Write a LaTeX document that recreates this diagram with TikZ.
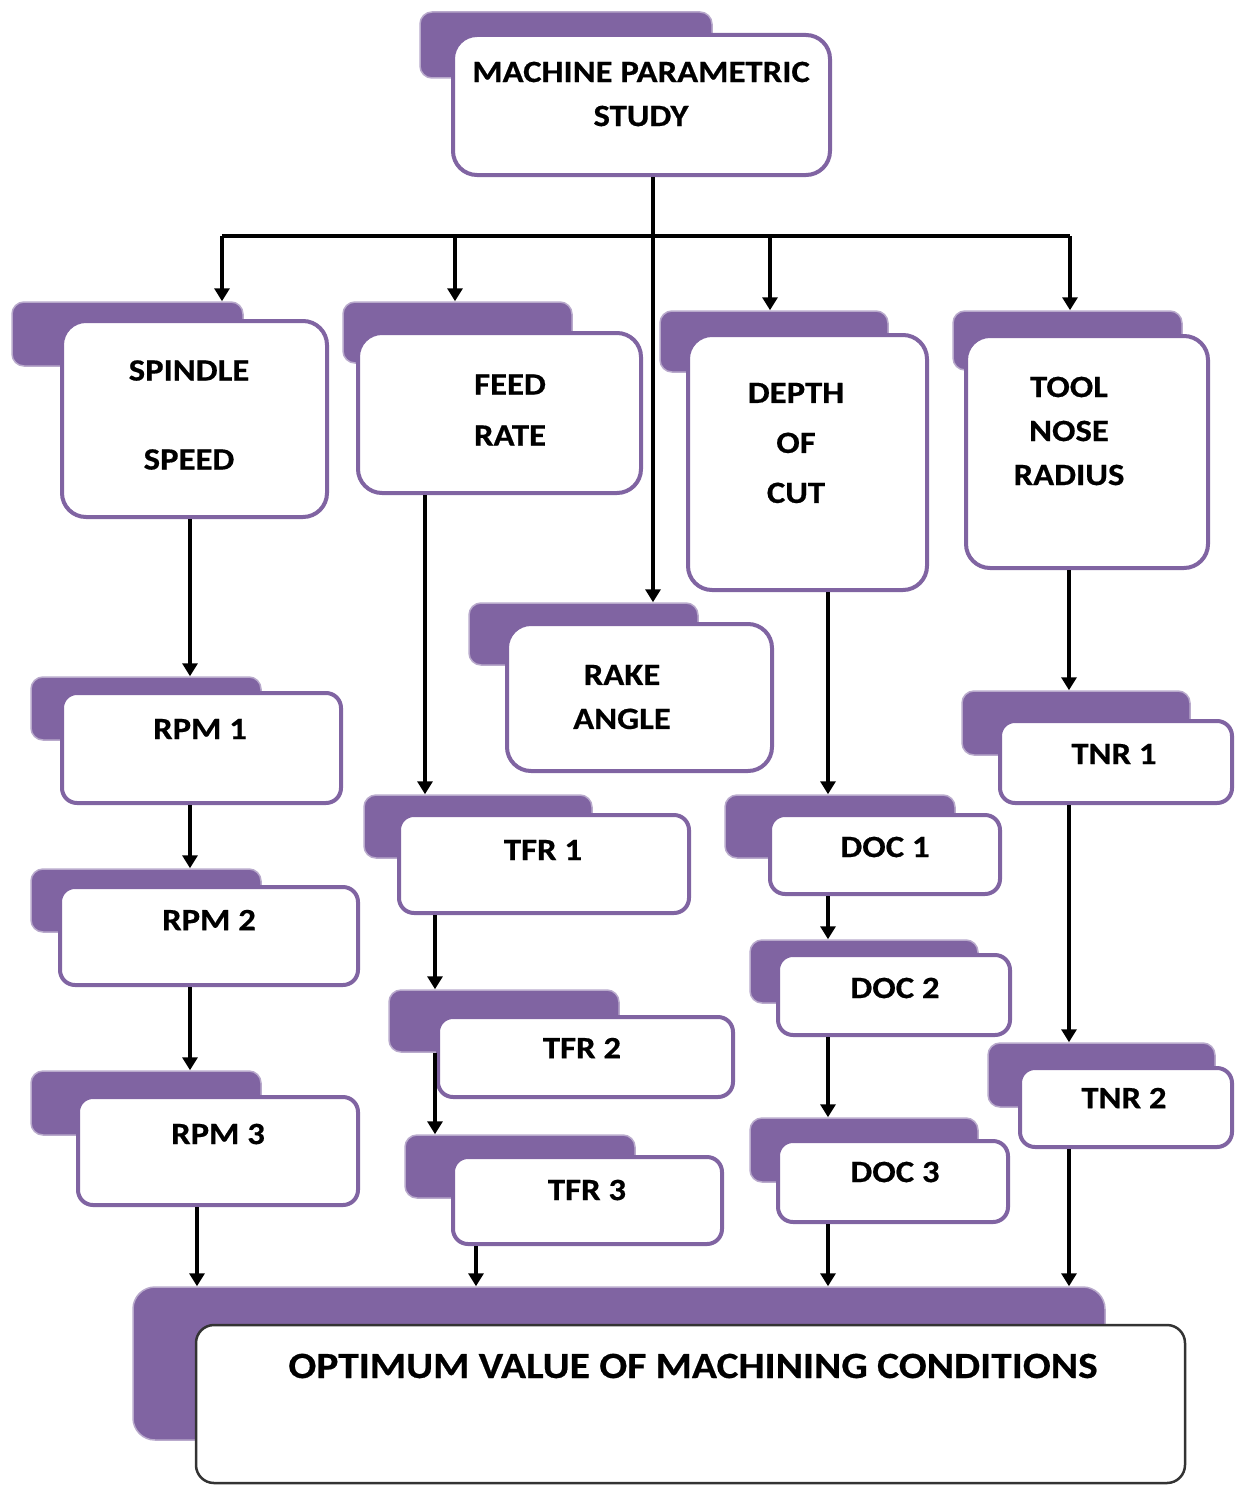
\documentclass[tikz,border=0pt]{standalone}
\usepackage{fontspec}
\setmainfont{Carlito}[FakeStretch=1.12, BoldFeatures={FakeBold=0.5}]
\usepackage{xcolor}
\usetikzlibrary{arrows.meta,positioning}

\definecolor{tabpurple}{HTML}{8064A2}

\begin{document}
\begin{tikzpicture}[
  x=1pt, y=-1pt,
  wh/.style 2 args={minimum width=#1pt, minimum height=#2pt},
  tab/.style={fill=tabpurple, draw=tabpurple!55!white, line width=1.5pt, rounded corners=12pt, inner sep=0pt},
  card/.style={fill=white, draw=tabpurple, line width=4pt, rounded corners=24pt, inner sep=0pt},
  smallcard/.style={card, rounded corners=15pt},
  lbl/.style={align=center, inner sep=0pt, font=\fontsize{31}{44}\selectfont\bfseries},
  conn/.style={line width=3.5pt},
  arr/.style={conn, -{Triangle[width=15pt,length=13pt]}},
]
\useasboundingbox (0,0) rectangle (1241,1485);

% top of the tree
\node[tab, wh={292}{66}] (topt) at (566,45) {};
\node[card, wh={377}{140}] (top) at (641.5,105) {};
\node[lbl] (top-l) at (641,94) {MACHINE PARAMETRIC\\STUDY};

% the five parameters
\node[tab, wh={231}{64}] (spindlet) at (127.5,334) {};
\node[card, wh={265}{196}] (spindle) at (194.5,419) {};
\node[lbl] (spindle-l) at (189,415) {SPINDLE\\[45pt]SPEED};

\node[tab, wh={229}{61}] (feedt) at (457.5,332.5) {};
\node[card, wh={283}{160}] (feed) at (499.5,413) {};
\node[lbl] (feed-l) at (510,410) {FEED\\[7pt]RATE};

\node[tab, wh={228}{61}] (deptht) at (774,341.5) {};
\node[card, wh={239}{255}] (depth) at (807.5,462.5) {};
\node[lbl] (depth-l) at (796,443) {DEPTH\\[6pt]OF\\[6pt]CUT};

\node[tab, wh={229}{59}] (toolt) at (1067.5,340.5) {};
\node[card, wh={242}{232}] (tool) at (1087,452) {};
\node[lbl] (tool-l) at (1069,431) {TOOL\\NOSE\\RADIUS};

\node[tab, wh={229}{62}] (raket) at (583.5,634) {};
\node[card, wh={265}{147}] (rake) at (639.5,697.5) {};
\node[lbl] (rake-l) at (622,697) {RAKE\\ANGLE};

% levels of each parameter
\node[tab, wh={230}{63}] (rpm1t) at (146,708.5) {};
\node[smallcard, wh={279}{110}] (rpm1) at (201.5,748) {};
\node[lbl] (rpm1-l) at (200,729) {RPM 1};

\node[tab, wh={230}{63}] (rpm2t) at (146,900.5) {};
\node[smallcard, wh={298}{98}] (rpm2) at (209,936) {};
\node[lbl] (rpm2-l) at (209,920) {RPM 2};

\node[tab, wh={230}{64}] (rpm3t) at (146,1103) {};
\node[smallcard, wh={280}{108}] (rpm3) at (218,1151) {};
\node[lbl] (rpm3-l) at (218,1134) {RPM 3};

\node[tab, wh={228}{63}] (tfr1t) at (478,826.5) {};
\node[smallcard, wh={290}{98}] (tfr1) at (544,864) {};
\node[lbl] (tfr1-l) at (543,850) {TFR 1};

\node[tab, wh={230}{62}] (tfr2t) at (504,1021) {};
\node[smallcard, wh={295}{80}] (tfr2) at (585.5,1057) {};
\node[lbl] (tfr2-l) at (582,1048) {TFR 2};

\node[tab, wh={230}{63}] (tfr3t) at (520,1166.5) {};
\node[smallcard, wh={269}{87}] (tfr3) at (587.5,1200.5) {};
\node[lbl] (tfr3-l) at (587,1190) {TFR 3};

\node[tab, wh={230}{63}] (doc1t) at (840,826.5) {};
\node[smallcard, wh={230}{79}] (doc1) at (885,854.5) {};
\node[lbl] (doc1-l) at (885,847) {DOC 1};

\node[tab, wh={228}{63}] (doc2t) at (864,971.5) {};
\node[smallcard, wh={232}{80}] (doc2) at (894,995) {};
\node[lbl] (doc2-l) at (895,988) {DOC 2};

\node[tab, wh={228}{64}] (doc3t) at (864,1150) {};
\node[smallcard, wh={230}{81}] (doc3) at (893,1181.5) {};
\node[lbl] (doc3-l) at (895,1172) {DOC 3};

\node[tab, wh={228}{64}] (tnr1t) at (1076,723) {};
\node[smallcard, wh={232}{82}] (tnr1) at (1116,762) {};
\node[lbl] (tnr1-l) at (1114,754) {TNR 1};

\node[tab, wh={227}{64}] (tnr2t) at (1101.5,1075) {};
\node[smallcard, wh={212}{79}] (tnr2) at (1126,1107.5) {};
\node[lbl] (tnr2-l) at (1124,1098) {TNR 2};

% result
\node[tab, wh={972}{153}, rounded corners=22pt] (optt) at (619,1363.5) {};
\node[card, wh={989}{158}, draw=black!80, line width=2.5pt, rounded corners=18pt] (opt) at (690.5,1404) {};
\node[lbl, font=\fontsize{37}{44}\selectfont\bfseries] (opt-l) at (693,1366) {OPTIMUM VALUE OF MACHINING CONDITIONS};

% bus and column coordinates
\coordinate (hub) at (653,236);
\coordinate (b1) at (222,236);
\coordinate (b2) at (455,236);
\coordinate (b3) at (770,236);
\coordinate (b4) at (1070,236);
\coordinate (c1) at (190,0);
\coordinate (c1b) at (197,0);
\coordinate (c2) at (425,0);
\coordinate (c2a) at (435,0);
\coordinate (c2b) at (476,0);
\coordinate (c3) at (828,0);
\coordinate (c4) at (1069,0);

\draw[conn] (top.south -| hub) -- (hub);
\draw[conn] (b1) -- (b4);
\draw[arr] (hub) -- (hub |- raket.north);
\draw[arr] (b1) -- (b1 |- spindlet.north);
\draw[arr] (b2) -- (b2 |- feedt.north);
\draw[arr] (b3) -- (b3 |- deptht.north);
\draw[arr] (b4) -- (b4 |- toolt.north);

\draw[arr] (c1 |- spindle.south) -- (c1 |- rpm1t.north);
\draw[arr] (c1 |- rpm1.south) -- (c1 |- rpm2t.north);
\draw[arr] (c1 |- rpm2.south) -- (c1 |- rpm3t.north);
\draw[arr] (c1b |- rpm3.south) -- (c1b |- optt.north);

\draw[arr] (c2 |- feed.south) -- (c2 |- tfr1t.north);
\draw[arr] (c2a |- tfr1.south) -- (c2a |- tfr2t.north);
\draw[arr] (c2a |- tfr2t.south) -- (c2a |- tfr3t.north);
\draw[arr] (c2b |- tfr3.south) -- (c2b |- optt.north);

\draw[arr] (c3 |- depth.south) -- (c3 |- doc1t.north);
\draw[arr] (c3 |- doc1.south) -- (c3 |- doc2t.north);
\draw[arr] (c3 |- doc2.south) -- (c3 |- doc3t.north);
\draw[arr] (c3 |- doc3.south) -- (c3 |- optt.north);

\draw[arr] (c4 |- tool.south) -- (c4 |- tnr1t.north);
\draw[arr] (c4 |- tnr1.south) -- (c4 |- tnr2t.north);
\draw[arr] (c4 |- tnr2.south) -- (c4 |- optt.north);
\end{tikzpicture}
\end{document}
